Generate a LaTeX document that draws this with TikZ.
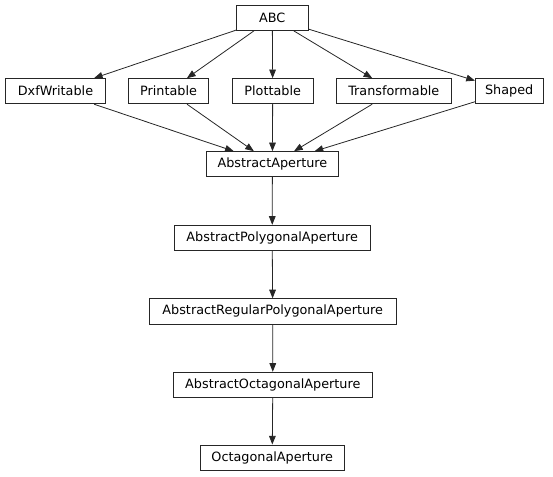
\documentclass[tikz,border=0pt]{standalone}
\usepackage{fontspec}
\setmainfont{DejaVu Sans}
\usetikzlibrary{arrows.meta}
\begin{document}
\begin{tikzpicture}[x=0.75pt,y=-0.75pt,
  box/.style={draw=black!85,line width=0.6pt,rectangle,inner sep=0pt,minimum height=18.9pt,font=\fontsize{9.6}{11}\selectfont},
  edge/.style={draw=black!85,line width=0.6pt,-{Triangle[length=6.5pt,width=5pt]}}]
\useasboundingbox (0,0) rectangle (553,476);
\node[box,minimum width=53.5pt] (abc) at (272.3,17.9) {ABC};
\node[box,minimum width=74.7pt] (dxf) at (55.5,91.2) {DxfWritable};
\node[box,minimum width=60.3pt] (pri) at (168.5,91.2) {Printable};
\node[box,minimum width=60.5pt] (plo) at (272.7,91.2) {Plottable};
\node[box,minimum width=86.2pt] (tra) at (393.8,91.2) {Transformable};
\node[box,minimum width=50.8pt] (sha) at (509.2,91.2) {Shaped};
\node[box,minimum width=98.5pt] (aa) at (272.4,164.2) {AbstractAperture};
\node[box,minimum width=146.8pt] (apa) at (272.2,237.8) {AbstractPolygonalAperture};
\node[box,minimum width=185pt] (arpa) at (272.7,311.3) {AbstractRegularPolygonalAperture};
\node[box,minimum width=149.2pt] (aoa) at (272.8,384.8) {AbstractOctagonalAperture};
\node[box,minimum width=108.2pt] (oa) at (272.2,457.5) {OctagonalAperture};
\foreach \c in {dxf,pri,plo,tra,sha}{
  \draw[edge] (abc) -- (\c);
  \draw[edge] (\c) -- (aa);
}
\draw[edge] (aa) -- (apa);
\draw[edge] (apa) -- (arpa);
\draw[edge] (arpa) -- (aoa);
\draw[edge] (aoa) -- (oa);
\end{tikzpicture}
\end{document}
